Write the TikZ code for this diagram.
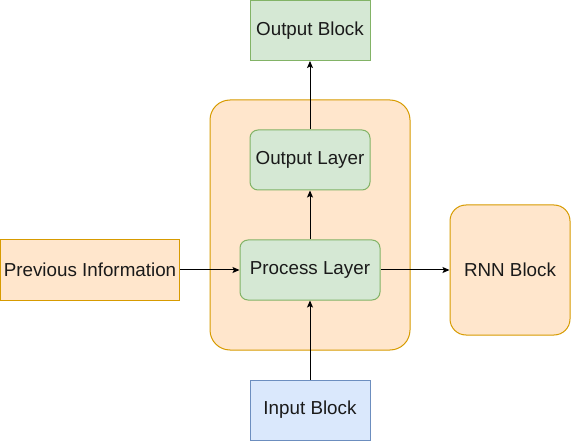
\documentclass[tikz,border=0pt]{standalone}
\usepackage{fontspec}
\setmainfont{Liberation Sans}
\usetikzlibrary{arrows.meta}
\definecolor{gfill}{HTML}{D5E8D4}
\definecolor{gline}{HTML}{82B366}
\definecolor{ofill}{HTML}{FFE6CC}
\definecolor{oline}{HTML}{D79B00}
\definecolor{bfill}{HTML}{DAE8FC}
\definecolor{bline}{HTML}{6C8EBF}
\definecolor{txt}{HTML}{1A1A1A}
\tikzset{
  box/.style={draw, line width=1pt, inner sep=0pt, font=\fontsize{18.8}{21}\selectfont, text=txt},
  greenbox/.style={box, fill=gfill, draw=gline},
  orangebox/.style={box, fill=ofill, draw=oline},
  bluebox/.style={box, fill=bfill, draw=bline},
  conn/.style={draw=black, line width=1pt, -{Stealth[length=7pt,width=6pt,inset=1.5pt]}}
}
\begin{document}
\begin{tikzpicture}[x=1pt,y=-1pt]
\useasboundingbox (0,0) rectangle (571,441);
% big container
\node[orangebox, rounded corners=20pt, minimum width=200pt, minimum height=250pt] (cont) at (310,225) {};
\node[greenbox, minimum width=120pt, minimum height=60pt] (ob) at (310,30.5) {Output Block};
\node[greenbox, rounded corners=8pt, minimum width=120pt, minimum height=60pt] (ol) at (310,160) {Output Layer};
\node[greenbox, rounded corners=8pt, minimum width=140pt, minimum height=60pt] (pl) at (310,270) {Process Layer};
\node[orangebox, minimum width=179pt, minimum height=60pt] (pi) at (90,270) {Previous Information};
\node[orangebox, rounded corners=16pt, minimum width=120pt, minimum height=130pt] (rnn) at (510,270) {RNN Block};
\node[bluebox, minimum width=120pt, minimum height=60pt] (ib) at (310,410) {Input Block};
\draw[conn] (pi) -- (pl);
\draw[conn] (pl) -- (rnn);
\draw[conn] (ib) -- (pl);
\draw[conn] (pl) -- (ol);
\draw[conn] (ol) -- (ob);
\end{tikzpicture}
\end{document}
